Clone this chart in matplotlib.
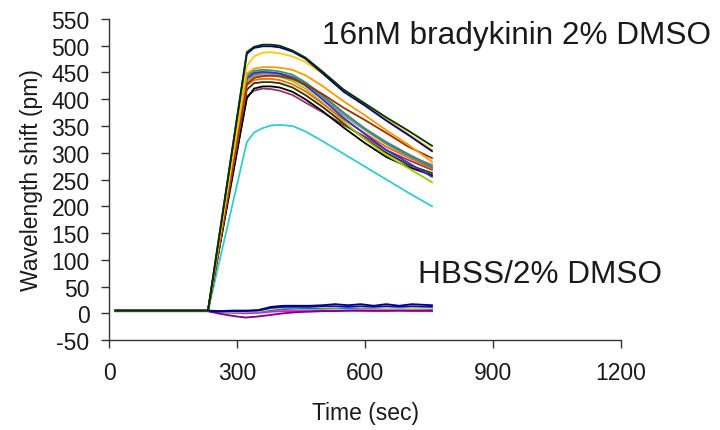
import numpy as np
import matplotlib
matplotlib.use('Agg')
import matplotlib.pyplot as plt

# Время (сек) для кривых с брадикинином
t_resp = [15, 232, 323, 340, 360, 380, 400, 430, 460, 500, 550, 600, 650, 700, 757]

# 16nM bradykinin 2% DMSO
resp_dkgreen = [5, 5, 488, 498, 502, 502, 500, 491, 478, 452, 418, 392, 366, 342, 313]
resp_navy = [5, 5, 485, 496, 499, 499, 497, 489, 476, 449, 414, 388, 360, 334, 303]
resp_gold = [5, 5, 462, 480, 487, 488, 486, 480, 470, 448, 416, 390, 362, 336, 306]
resp_orange = [5, 5, 448, 457, 460, 460, 459, 455, 445, 425, 396, 370, 342, 316, 283]
resp_brown = [4, 4, 428, 440, 443, 444, 443, 438, 428, 410, 384, 361, 337, 312, 290]
resp_teal = [5, 5, 445, 453, 455, 454, 452, 446, 432, 408, 375, 345, 318, 296, 272]
resp_blue = [5, 5, 440, 450, 451, 450, 448, 440, 426, 400, 365, 335, 305, 282, 255]
resp_slate = [5, 5, 438, 447, 450, 450, 448, 442, 430, 406, 374, 345, 320, 298, 275]
resp_grey = [5, 5, 436, 445, 447, 447, 445, 438, 426, 402, 370, 342, 316, 294, 278]
resp_orred = [4, 4, 426, 436, 438, 438, 436, 428, 415, 392, 362, 336, 311, 292, 270]
resp_lime = [5, 5, 432, 442, 445, 444, 442, 434, 420, 394, 358, 325, 296, 272, 245]
resp_olive = [5, 5, 418, 430, 432, 432, 430, 422, 408, 386, 355, 326, 300, 278, 262]
resp_black = [5, 5, 402, 420, 424, 424, 422, 414, 400, 378, 347, 318, 292, 274, 258]
resp_plum = [5, 5, 405, 416, 420, 419, 416, 408, 394, 376, 352, 330, 305, 287, 268]
resp_cyan = [4, 4, 320, 338, 346, 351, 352, 350, 340, 322, 298, 274, 250, 226, 200]

# Время (сек) для контроля
t_ctrl = [15, 232, 260, 290, 320, 350, 380, 410, 440, 470, 500, 530, 560, 590, 620, 650, 680, 710, 757]

# HBSS/2% DMSO
ctrl_navy = [5, 5, 4, 5, 5, 6, 12, 14, 14, 14, 15, 17, 15, 17, 14, 17, 14, 17, 15]
ctrl_blue = [4, 4, 3, 4, 4, 5, 10, 12, 12, 12, 13, 13, 12, 13, 12, 13, 12, 13, 12]
ctrl_yellow = [4, 4, 3, 3, 3, 4, 8, 11, 11, 12, 11, 11, 12, 11, 11, 10, 11, 10, 10]
ctrl_teal = [4, 4, 3, 2, 2, 3, 6, 8, 9, 9, 9, 10, 10, 10, 10, 10, 11, 10, 9]
ctrl_ltcyan = [3, 3, 1, 0, -1, -1, 0, 1, 1, 1, 1, 1, 1, 1, 1, 0, 0, 0, 0]
ctrl_pink = [4, 4, 2, 1, 0, 1, 4, 5, 5, 5, 5, 6, 5, 5, 5, 5, 5, 5, 4]
ctrl_purple = [4, 4, -1, -5, -8, -6, -3, 0, 2, 3, 4, 4, 5, 5, 5, 5, 5, 5, 5]
ctrl_peach = [5, 5, 3, 2, 2, 3, 6, 7, 7, 7, 7, 7, 7, 7, 7, 7, 7, 7, 7]
ctrl_lavender = [4, 4, 2, 1, 1, 2, 4, 5, 5, 5, 5, 5, 5, 5, 5, 5, 5, 5, 5]
ctrl_ltblue = [4, 4, 3, 3, 2, 3, 6, 8, 8, 9, 9, 9, 8, 9, 9, 8, 9, 8, 8]
ctrl_magenta = [4, 4, 2, 1, 0, 1, 3, 4, 4, 4, 5, 5, 5, 5, 4, 4, 5, 4, 4]

ctrl_curves = [
    (ctrl_ltcyan, '#CCFFFF'), (ctrl_pink, '#FF99CC'), (ctrl_lavender, '#CC99FF'),
    (ctrl_peach, '#FFCC99'), (ctrl_magenta, '#FF00FF'), (ctrl_ltblue, '#99CCFF'),
    (ctrl_teal, '#008080'), (ctrl_yellow, '#FFFF00'), (ctrl_purple, '#800080'),
    (ctrl_blue, '#0000FF'), (ctrl_navy, '#000080'),
]

resp_curves = [
    (resp_cyan, '#33CCCC'), (resp_plum, '#993366'), (resp_black, '#000000'),
    (resp_olive, '#333300'), (resp_lime, '#99CC00'), (resp_orred, '#FF6600'),
    (resp_grey, '#969696'), (resp_slate, '#666699'), (resp_blue, '#3333CC'),
    (resp_teal, '#339966'), (resp_brown, '#993300'), (resp_orange, '#FF9900'),
    (resp_gold, '#FFCC00'), (resp_navy, '#000080'), (resp_dkgreen, '#003300'),
]

plt.rcParams['font.family'] = ['Liberation Sans', 'DejaVu Sans']
plt.rcParams['axes.unicode_minus'] = False

fig = plt.figure(figsize=(7.2, 4.31), dpi=100)
ax = fig.add_axes([0.1514, 0.2088, 0.7111, 0.7448])

for vals, col in ctrl_curves:
    ax.plot(t_ctrl, vals, color=col, lw=1.3)
for vals, col in resp_curves:
    ax.plot(t_resp, vals, color=col, lw=1.3)

ax.set_xlim(0, 1200)
ax.set_ylim(-50, 550)
ax.set_xticks([0, 300, 600, 900, 1200])
ax.set_yticks(np.arange(-50, 551, 50))

for s in ['top', 'right']:
    ax.spines[s].set_visible(False)
for s in ['left', 'bottom']:
    ax.spines[s].set_color('#333333')
    ax.spines[s].set_linewidth(1.0)

ax.tick_params(axis='both', direction='out', length=6, width=1.0, color='#333333',
               labelsize=16.5, labelcolor='#1a1a1a')
ax.tick_params(axis='y', pad=8)
ax.tick_params(axis='x', pad=9)

ax.set_xlabel('Time (sec)', fontsize=16.5, color='#1a1a1a', labelpad=12)
ax.set_ylabel('Wavelength shift (pm)', fontsize=16.5, color='#1a1a1a', labelpad=6)

fig.text(0.447, 0.916, '16nM bradykinin 2% DMSO', fontsize=22.7, color='#1a1a1a',
         ha='left', va='center')
fig.text(0.581, 0.362, 'HBSS/2% DMSO', fontsize=22.7, color='#1a1a1a',
         ha='left', va='center')

plt.savefig('out.png', dpi=100)
